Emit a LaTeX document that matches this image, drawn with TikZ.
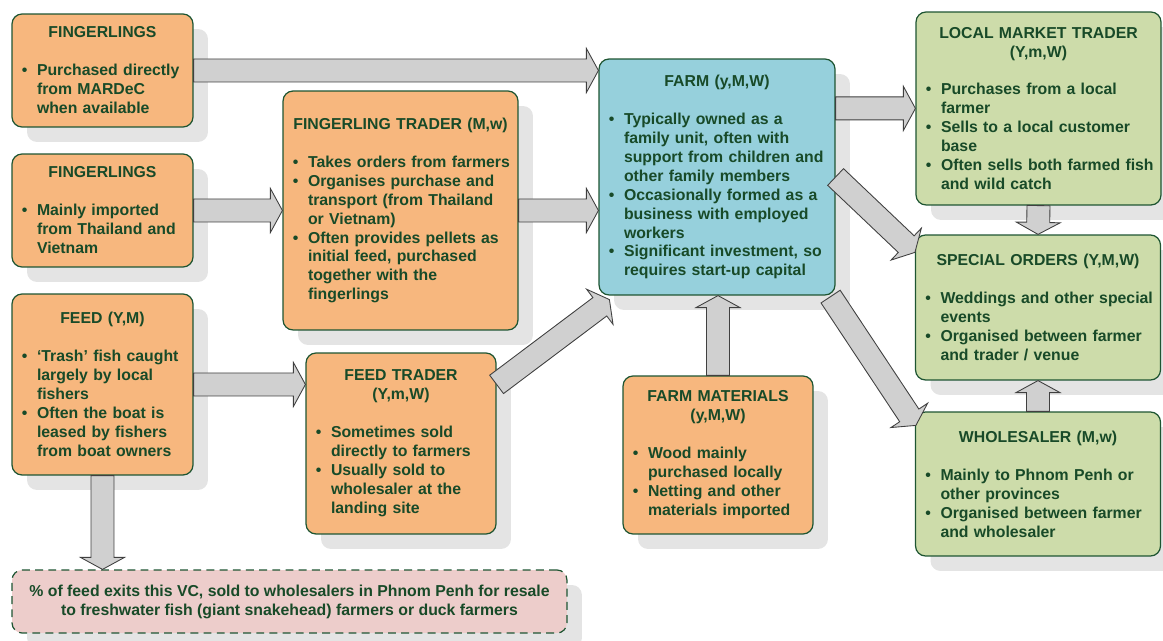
\documentclass[tikz,border=0pt]{standalone}
\usepackage{fontspec}
\setmainfont{Liberation Sans}
\usetikzlibrary{calc, shadows}

\definecolor{txtgreen}{RGB}{24,74,40}
\definecolor{edgegreen}{RGB}{30,85,50}
\definecolor{orangefill}{RGB}{247,183,126}
\definecolor{bluefill}{RGB}{150,208,220}
\definecolor{greenfill}{RGB}{205,220,170}
\definecolor{pinkfill}{RGB}{237,205,203}
\definecolor{shadowgray}{RGB}{228,228,228}
\definecolor{arrowgray}{RGB}{208,208,208}

% bullet list used inside the boxes
\newenvironment{pts}{\begin{list}{\textbullet}{%
  \setlength\leftmargin{0.32cm}\setlength\rightmargin{-0.3cm}%
  \setlength\labelsep{0.19cm}%
  \setlength\labelwidth{0.13cm}\setlength\itemsep{0pt}%
  \setlength\parsep{0pt}\setlength\topsep{0pt}\setlength\partopsep{0pt}}%
  \raggedright}{\end{list}}
\newcommand\ttl[1]{{\centering #1\par}\vspace{10.8pt}}

% fat grey arrow from #1 (tail) to #2 (tip)
\newcommand\flowarrow[2]{%
  \coordinate (fa-t) at (#1);
  \coordinate (fa-h) at (#2);
  \coordinate (fa-b) at ($(fa-h)!0.24cm!(fa-t)$);
  \draw[flow] ($(fa-t)!0.23cm!90:(fa-h)$) -- ($(fa-b)!0.23cm!90:(fa-h)$)
    -- ($(fa-b)!0.44cm!90:(fa-h)$) -- (fa-h) -- ($(fa-b)!0.44cm!-90:(fa-h)$)
    -- ($(fa-b)!0.23cm!-90:(fa-h)$) -- ($(fa-t)!0.23cm!-90:(fa-h)$) -- cycle;}

\tikzset{
  box/.style={draw=edgegreen, line width=0.7pt, rounded corners=0.2cm,
    text=txtgreen, font=\fontsize{9}{10.8}\selectfont\bfseries, align=left,
    inner xsep=0.18cm, inner ysep=0.2cm,
    drop shadow={shadow xshift=0.3cm, shadow yshift=-0.3cm, fill=shadowgray, opacity=1}},
  seller/.style={box, fill=orangefill},
  farmbox/.style={box, fill=bluefill},
  buyer/.style={box, fill=greenfill, text width=4.54cm, minimum width=4.9cm},
  exitbox/.style={box, fill=pinkfill, dashed, dash pattern=on 4.5pt off 3pt, align=center},
  flow/.style={draw=black!75, fill=arrowgray, line width=0.5pt, line join=miter},
}

\begin{document}
\begin{tikzpicture}[x=0.02cm, y=-0.02cm]
    \useasboundingbox (0,0) rectangle (1163,641);

    % inputs
    \node[seller, text width=3.26cm, minimum height=2.26cm] (f1) at (102.5,70.5)
        {\ttl{FINGERLINGS}\begin{pts}\item Purchased directly\\from MARDeC\\when available\end{pts}};
    \node[seller, text width=3.26cm, minimum height=2.26cm] (f2) at (102.5,210.5)
        {\ttl{FINGERLINGS}\begin{pts}\item Mainly imported\\from Thailand and\\Vietnam\end{pts}};
    \node[seller, text width=3.26cm, minimum height=3.62cm] (feed) at (102.5,384.5)
        {\ttl{FEED (Y,M)}\begin{pts}\item `Trash' fish caught\\largely by local\\fishers
         \item Often the boat is\\leased by fishers\\from boat owners\end{pts}};
    \node[seller, text width=4.34cm, minimum height=4.78cm] (ft) at (400.5,210.5)
        {\ttl{FINGERLING TRADER (M,w)}\begin{pts}\item Takes orders from farmers
         \item Organises purchase and\\transport (from Thailand\\or Vietnam)
         \item Often provides pellets as\\initial feed, purchased\\together with the\\fingerlings\end{pts}};
    \node[seller, text width=3.44cm, minimum height=3.62cm] (ftr) at (401,443.5)
        {\ttl{FEED TRADER\\(Y,m,W)}\begin{pts}\item Sometimes sold\\directly to farmers
         \item Usually sold to\\wholesaler at the\\landing site\end{pts}};

    % farm
    \node[farmbox, text width=4.36cm, minimum height=4.72cm] (farm) at (717,177)
        {\ttl{FARM (y,M,W)}\begin{pts}\item Typically owned as a\\family unit, often with\\support from children and\\other family members
         \item Occasionally formed as a\\business with employed\\workers
         \item Significant investment, so\\requires start-up capital\end{pts}};
    \node[seller, text width=3.44cm, minimum height=3.16cm] (fm) at (718,455)
        {\ttl{FARM MATERIALS\\(y,M,W)}\begin{pts}\item Wood mainly\\purchased locally
         \item Netting and other\\materials imported\end{pts}};

    % outputs
    \node[buyer, minimum height=3.86cm] (lmt) at (1038.5,108.5)
        {\ttl{LOCAL MARKET TRADER\\(Y,m,W)}\begin{pts}\item Purchases from a local\\farmer
         \item Sells to a local customer\\base
         \item Often sells both farmed fish\\and wild catch\end{pts}};
    \node[buyer, minimum height=2.9cm] (so) at (1038,307.5)
        {\ttl{SPECIAL ORDERS (Y,M,W)}\begin{pts}\item Weddings and other special\\events
         \item Organised between farmer\\and trader / venue\end{pts}};
    \node[buyer, minimum height=2.88cm] (ws) at (1038,484)
        {\ttl{WHOLESALER (M,w)}\begin{pts}\item Mainly to Phnom Penh or\\other provinces
         \item Organised between farmer\\and wholesaler\end{pts}};

    \node[exitbox, minimum width=11.1cm, minimum height=1.26cm] (exit) at (289.5,601.5)
        {\% of feed exits this VC, sold to wholesalers in Phnom Penh for resale\\
         to freshwater fish (giant snakehead) farmers or duck farmers};

    % arrows
    \coordinate (toplmt) at ($(farm.north east)+(0,50)$);
    \flowarrow{f1.east}{f1.east -| farm.west}
    \flowarrow{f2.east}{ft.west}
    \flowarrow{ft.east}{ft.east -| farm.west}
    \flowarrow{feed.east}{feed.east -| ftr.west}
    \flowarrow{$(ftr.north east)+(0,32)$}{$(farm.south west)+(11,4)$}
    \flowarrow{fm.north}{fm.north |- farm.south}
    \flowarrow{toplmt}{toplmt -| lmt.west}
    \flowarrow{farm.east}{$(so.north west)+(0,18)$}
    \flowarrow{$(farm.south east)+(-5,1)$}{$(ws.north west)+(1,14)$}
    \flowarrow{lmt.south}{so.north}
    \flowarrow{ws.north}{so.south}
    \flowarrow{feed.south}{feed.south |- exit.north}
\end{tikzpicture}
\end{document}
